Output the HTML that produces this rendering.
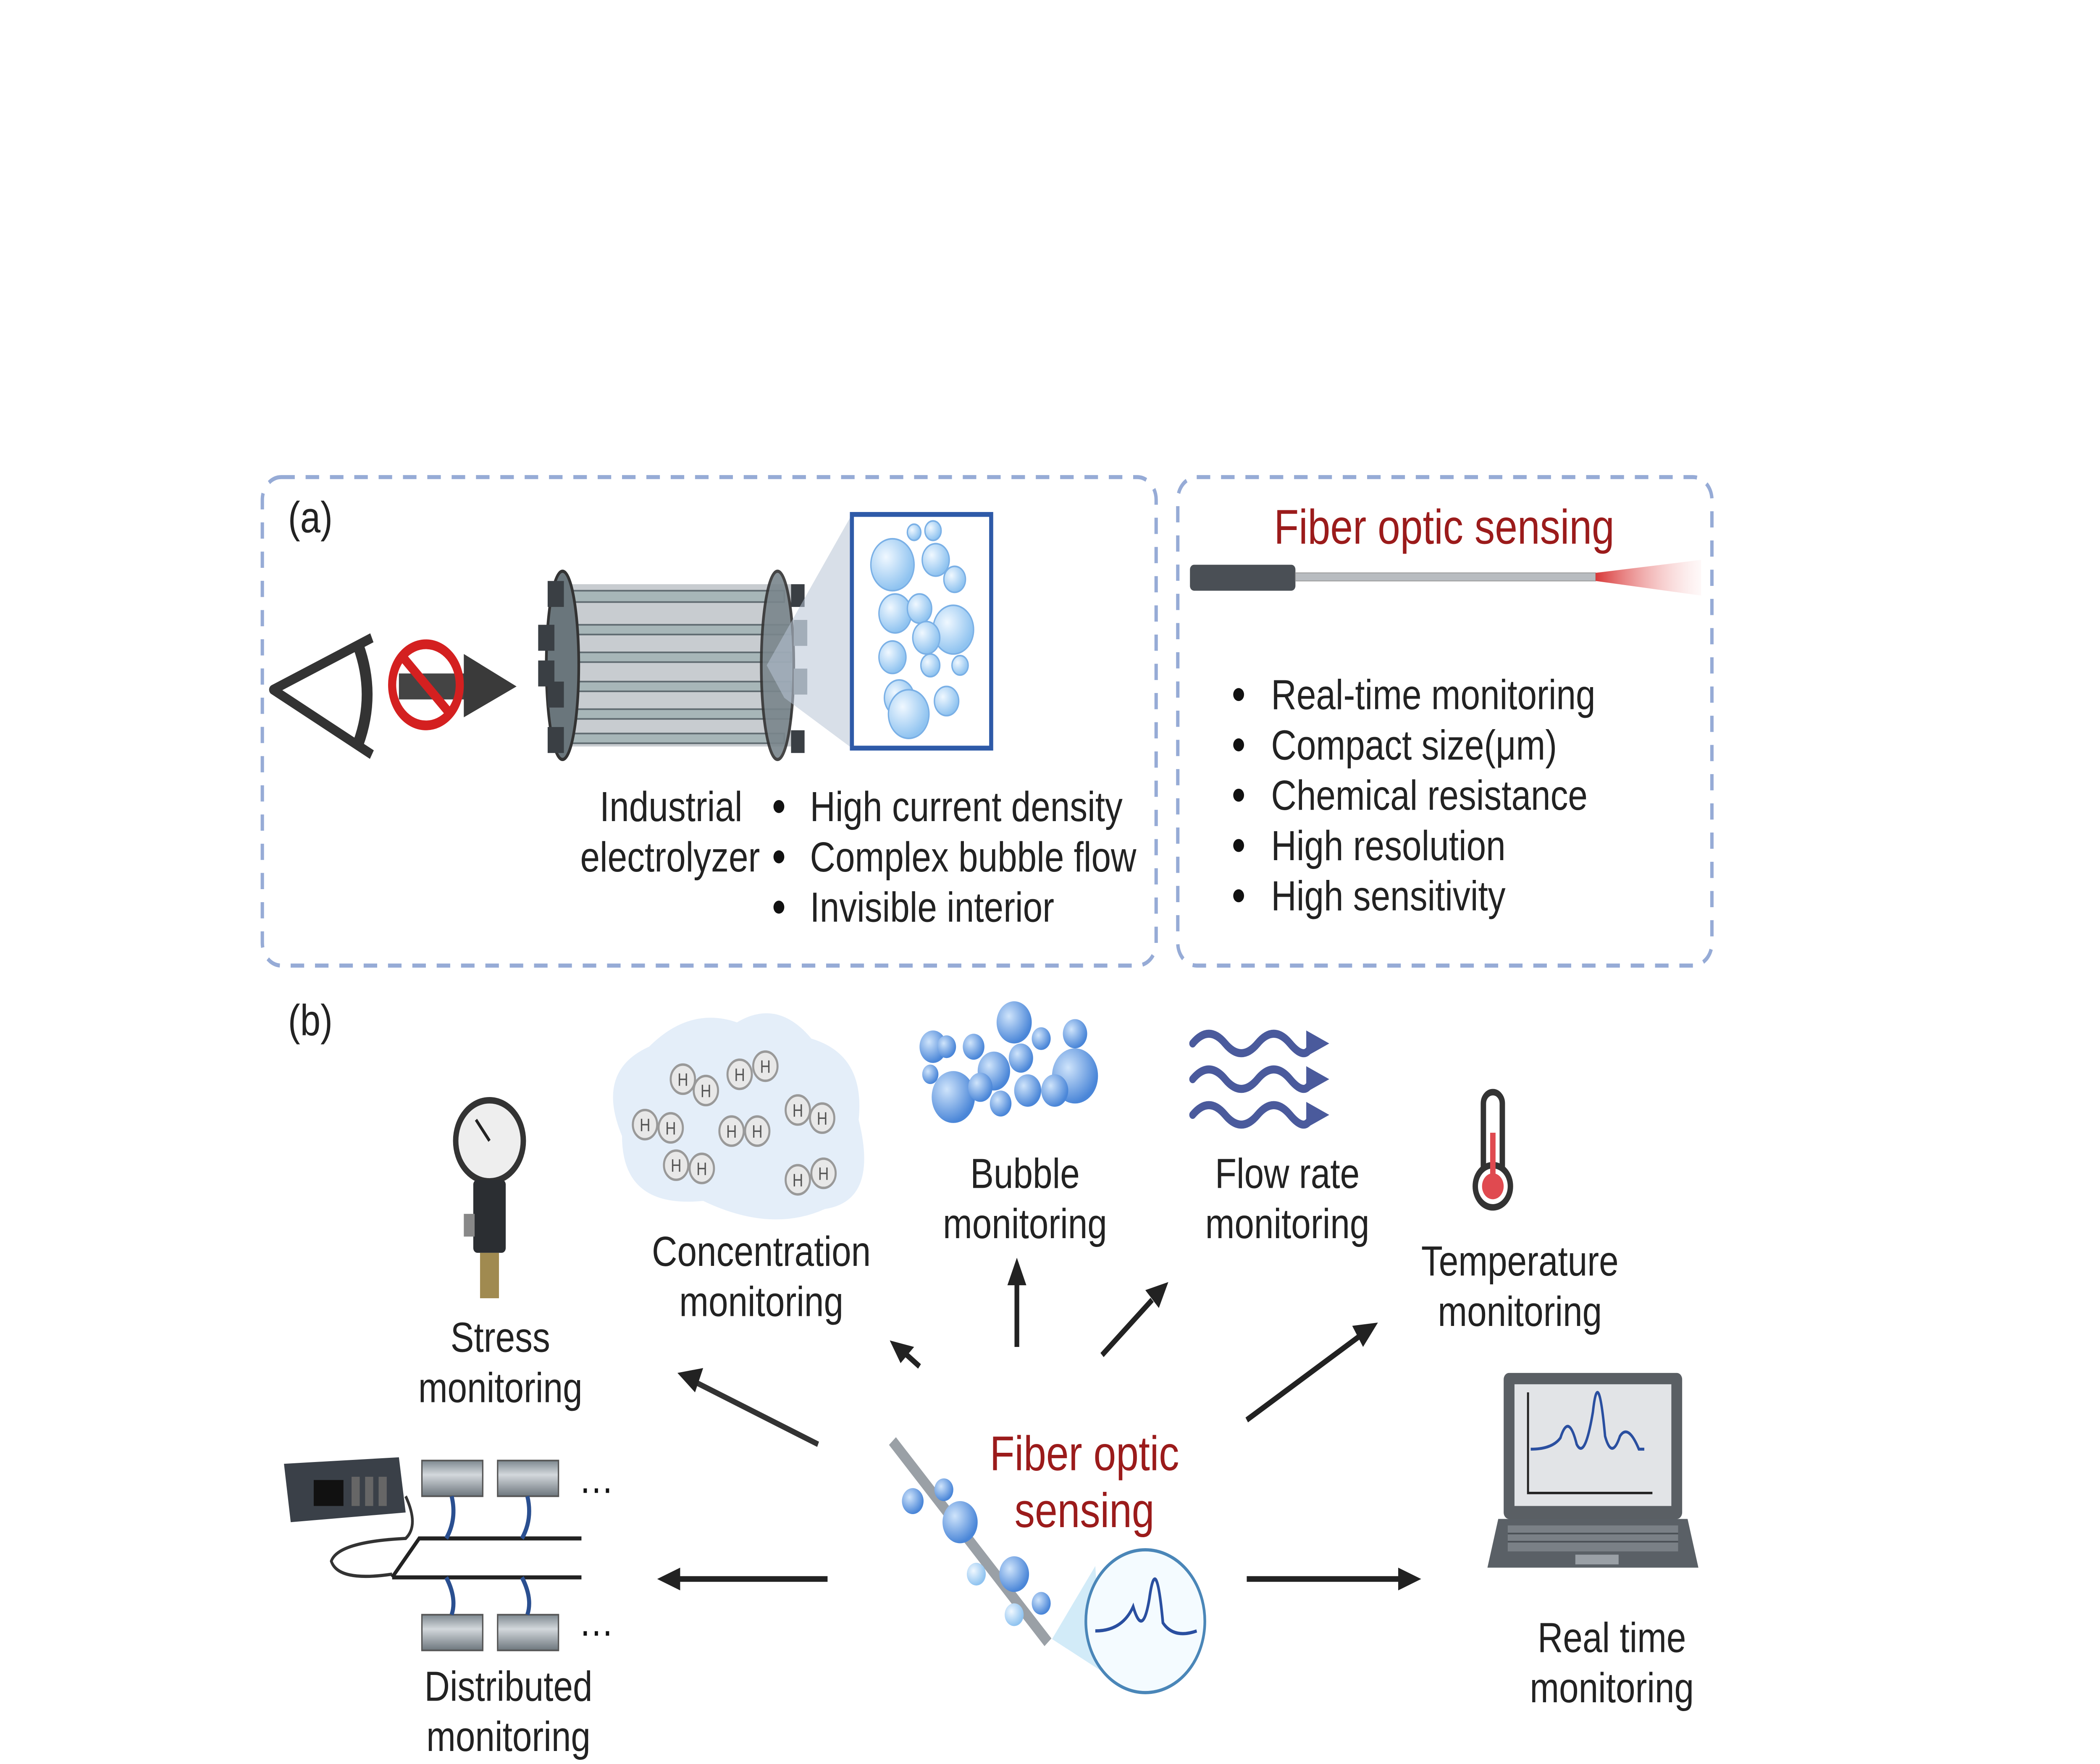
<!DOCTYPE html>
<html><head><meta charset="utf-8"><style>
html,body{margin:0;padding:0;background:#fff;overflow:hidden;width:100%;height:100%;}
svg{display:block;width:100vw;height:100vh;}
text{font-family:"Liberation Sans",sans-serif;}
</style></head><body>
<svg viewBox="0 0 1553 1087" preserveAspectRatio="none" xmlns="http://www.w3.org/2000/svg">
<defs>
<radialGradient id="bub" cx="35%" cy="35%" r="65%"><stop offset="0" stop-color="#cfe4fb"/><stop offset="1" stop-color="#4a86d8"/></radialGradient>
<radialGradient id="bubl" cx="35%" cy="35%" r="65%"><stop offset="0" stop-color="#f0f8ff"/><stop offset="1" stop-color="#8fc3f0"/></radialGradient>
<linearGradient id="glow" x1="0" x2="1"><stop offset="0" stop-color="#d83838"/><stop offset="1" stop-color="#f8c0c0" stop-opacity="0.1"/></linearGradient>
<linearGradient id="cyl" x1="0" y1="0" x2="0" y2="1"><stop offset="0" stop-color="#7d888f"/><stop offset="0.4" stop-color="#d3d8dc"/><stop offset="1" stop-color="#6d767d"/></linearGradient>
<linearGradient id="fadeL" x1="1" x2="0"><stop offset="0" stop-color="#222" stop-opacity="0"/><stop offset="0.5" stop-color="#222"/><stop offset="1" stop-color="#222"/></linearGradient>
</defs>
<rect width="1553" height="1087" fill="#fff"/>
<rect x="194" y="294" width="661" height="301" rx="14" fill="none" stroke="#96abd6" stroke-width="2.5" stroke-dasharray="10,8"/>
<rect x="871" y="294" width="395" height="301" rx="14" fill="none" stroke="#96abd6" stroke-width="2.5" stroke-dasharray="10,8"/>
<text x="213" y="328" font-size="27" fill="#222">(a)</text>
<text x="213" y="638" font-size="27" fill="#222">(b)</text>
<text x="1068" y="335" font-size="30" fill="#9b1b1b" text-anchor="middle">Fiber optic sensing</text>
<rect x="880" y="348" width="78" height="16" rx="3" fill="#4a4f55"/>
<rect x="958" y="353" width="222" height="5" fill="#b8bcc0" stroke="#999" stroke-width="0.5"/>
<polygon points="1180,353 1258,345 1258,367 1180,358" fill="url(#glow)"/>
<g font-size="26" fill="#222">
<g fill="#111"><circle cx="916" cy="428" r="4"/><circle cx="916" cy="459" r="4"/><circle cx="916" cy="490" r="4"/><circle cx="916" cy="521" r="4"/><circle cx="916" cy="552" r="4"/></g>
<text x="940" y="437">Real-time monitoring</text>
<text x="940" y="468">Compact size(μm)</text>
<text x="940" y="499">Chemical  resistance</text>
<text x="940" y="530">High resolution</text>
<text x="940" y="561">High sensitivity</text>
</g>
<path d="M275,393 L202,425 L275,465" fill="none" stroke="#333" stroke-width="6" stroke-linejoin="round"/>
<path d="M265,398 Q278,428 265,458" fill="none" stroke="#333" stroke-width="8"/>
<rect x="295" y="415" width="50" height="16" fill="#444"/>
<polygon points="343,403 382,423 343,442" fill="#3a3a3a"/>
<circle cx="315" cy="422" r="25" fill="none" stroke="#d42020" stroke-width="6"/>
<line x1="298" y1="405" x2="332" y2="439" stroke="#d42020" stroke-width="6"/>
<rect x="420" y="360" width="165" height="100" fill="#c8ccd0"/>
<g fill="#a7b6b8" stroke="#5f6a70" stroke-width="1"><rect x="420" y="364" width="160" height="7"/><rect x="420" y="385" width="165" height="6"/><rect x="420" y="402" width="165" height="6"/><rect x="420" y="420" width="165" height="6"/><rect x="420" y="437" width="165" height="6"/><rect x="420" y="452" width="160" height="6"/></g>
<ellipse cx="416" cy="410" rx="12" ry="58" fill="#6a767c" stroke="#333" stroke-width="2"/>
<ellipse cx="575" cy="410" rx="12" ry="58" fill="#7a868c" stroke="#333" stroke-width="2" opacity="0.9"/>
<g fill="#3a3f44"><rect x="405" y="358" width="12" height="16"/><rect x="405" y="448" width="12" height="16"/><rect x="398" y="385" width="12" height="16"/><rect x="398" y="407" width="12" height="16"/><rect x="405" y="420" width="12" height="16"/><rect x="585" y="360" width="10" height="14"/><rect x="585" y="450" width="10" height="14"/></g>
<g fill="#8a9298"><rect x="587" y="382" width="10" height="16"/><rect x="587" y="412" width="10" height="16"/></g>
<polygon points="567,410 630,317 630,461 580,430" fill="#b8c4d6" opacity="0.55"/>
<rect x="630" y="317" width="103" height="144" fill="#fff" stroke="#2e5aa8" stroke-width="3"/>
<g fill="url(#bubl)" stroke="#7ab0e6" stroke-width="1">
<circle cx="660" cy="348" r="16"/><circle cx="692" cy="345" r="10"/><circle cx="705" cy="388" r="15"/><circle cx="662" cy="378" r="12"/><circle cx="680" cy="375" r="9"/><circle cx="660" cy="405" r="10"/><circle cx="688" cy="410" r="7"/><circle cx="665" cy="430" r="11"/><circle cx="672" cy="440" r="15"/><circle cx="700" cy="432" r="9"/><circle cx="706" cy="357" r="8"/><circle cx="685" cy="393" r="10"/><circle cx="710" cy="410" r="6"/><circle cx="676" cy="328" r="5"/><circle cx="690" cy="327" r="6"/>
</g>
<g font-size="26" fill="#222">
<text x="549" y="506" text-anchor="end">Industrial</text>
<text x="562" y="537" text-anchor="end">electrolyzer</text>
<g fill="#111"><circle cx="576" cy="497" r="4"/><circle cx="576" cy="528" r="4"/><circle cx="576" cy="559" r="4"/></g>
<text x="599" y="506">High current density</text>
<text x="599" y="537">Complex bubble flow</text>
<text x="599" y="568">Invisible interior</text>
</g>
<g font-size="26" fill="#222" text-anchor="middle">
<text x="370" y="833">Stress</text><text x="370" y="864">monitoring</text>
<text x="563" y="780">Concentration</text><text x="563" y="811">monitoring</text>
<text x="758" y="732">Bubble</text><text x="758" y="763">monitoring</text>
<text x="952" y="732">Flow rate</text><text x="952" y="763">monitoring</text>
<text x="1124" y="786">Temperature</text><text x="1124" y="817">monitoring</text>
<text x="1192" y="1018">Real time</text><text x="1192" y="1049">monitoring</text>
<text x="376" y="1048">Distributed</text><text x="376" y="1079">monitoring</text>
</g>
<text x="802" y="906" font-size="30" fill="#9b1b1b" text-anchor="middle">Fiber optic</text>
<text x="802" y="941" font-size="30" fill="#9b1b1b" text-anchor="middle">sensing</text>
<g stroke="#222" stroke-width="3.5" fill="#222">
<line x1="605" y1="890" x2="515" y2="852" stroke="#333"/><polygon points="501,846 520,843 514,858" stroke="none"/>
<line x1="680" y1="842" x2="668" y2="833"/><polygon points="658,826 676,830 666,840" stroke="none"/>
<line x1="752" y1="830" x2="752" y2="790"/><polygon points="752,775 745,792 759,792" stroke="none"/>
<line x1="815" y1="835" x2="852" y2="801"/><polygon points="864,790 847,795 857,806" stroke="none"/>
<line x1="922" y1="875" x2="1006" y2="823"/><polygon points="1019,815 1000,817 1008,830" stroke="none"/>
<line x1="612" y1="973" x2="502" y2="973"/><polygon points="486,973 503,966 503,980" stroke="none"/>
<line x1="922" y1="973" x2="1035" y2="973"/><polygon points="1051,973 1034,966 1034,980" stroke="none"/>
</g>
<circle cx="362" cy="703" r="25" fill="#eee" stroke="#333" stroke-width="4"/>
<line x1="362" y1="703" x2="352" y2="690" stroke="#222" stroke-width="2"/>
<rect x="350" y="727" width="24" height="45" rx="3" fill="#2b2e32"/>
<rect x="343" y="748" width="8" height="14" fill="#888"/>
<rect x="355" y="772" width="14" height="28" fill="#a08a50"/>
<path d="M460,700 Q440,660 480,645 Q510,620 545,630 Q575,615 600,640 Q640,650 635,690 Q650,740 610,745 Q570,760 520,740 Q460,745 460,700Z" fill="#e4eef9"/>
<g fill="#e8e8e8" stroke="#999" stroke-width="1.5">
<circle cx="505" cy="665" r="9"/><circle cx="522" cy="672" r="9"/><circle cx="547" cy="662" r="9"/><circle cx="566" cy="657" r="9"/><circle cx="477" cy="693" r="9"/><circle cx="496" cy="695" r="9"/><circle cx="541" cy="697" r="9"/><circle cx="560" cy="697" r="9"/><circle cx="590" cy="684" r="9"/><circle cx="608" cy="689" r="9"/><circle cx="500" cy="718" r="9"/><circle cx="519" cy="720" r="9"/><circle cx="590" cy="727" r="9"/><circle cx="609" cy="723" r="9"/>
</g>
<g font-size="11" fill="#555" text-anchor="middle">
<text x="505" y="669">H</text><text x="522" y="676">H</text><text x="547" y="666">H</text><text x="566" y="661">H</text><text x="477" y="697">H</text><text x="496" y="699">H</text><text x="541" y="701">H</text><text x="560" y="701">H</text><text x="590" y="688">H</text><text x="608" y="693">H</text><text x="500" y="722">H</text><text x="519" y="724">H</text><text x="590" y="731">H</text><text x="609" y="727">H</text>
</g>
<g fill="url(#bub)">
<circle cx="705" cy="676" r="16"/><circle cx="735" cy="660" r="12"/><circle cx="750" cy="630" r="13"/><circle cx="795" cy="663" r="17"/><circle cx="760" cy="672" r="10"/><circle cx="690" cy="645" r="10"/><circle cx="780" cy="672" r="10"/><circle cx="720" cy="645" r="8"/><circle cx="795" cy="637" r="9"/><circle cx="740" cy="680" r="8"/><circle cx="700" cy="645" r="7"/><circle cx="770" cy="640" r="7"/><circle cx="688" cy="662" r="6"/><circle cx="725" cy="670" r="9"/><circle cx="755" cy="652" r="9"/>
</g>
<g fill="none" stroke="#4a5a9c" stroke-width="5" stroke-linecap="round">
<path d="M882,643 q12,-12 24,0 t24,0 t24,0 t16,0"/><path d="M882,665 q12,-12 24,0 t24,0 t24,0 t16,0"/><path d="M882,687 q12,-12 24,0 t24,0 t24,0 t16,0"/>
</g>
<g fill="#4a5a9c"><polygon points="966,635 983,643 966,651"/><polygon points="966,657 983,665 966,673"/><polygon points="966,679 983,687 966,695"/></g>
<rect x="1097" y="673" width="14" height="56" rx="7" fill="#fff" stroke="#333" stroke-width="4"/>
<circle cx="1104" cy="731" r="13" fill="#fff" stroke="#333" stroke-width="4"/>
<circle cx="1104" cy="731" r="8" fill="#e04a50"/><rect x="1102" y="698" width="4" height="30" fill="#e04a50"/>
<rect x="1112" y="846" width="132" height="90" rx="4" fill="#5a5f64"/>
<rect x="1120" y="853" width="116" height="75" fill="#e2e4e7"/>
<path d="M1130,858 V920 H1222" fill="none" stroke="#222" stroke-width="1.5"/>
<path d="M1132,893 Q1148,893 1154,886 Q1160,870 1166,890 Q1172,900 1178,870 Q1182,840 1187,885 Q1192,900 1198,885 Q1204,877 1212,893 L1216,893" fill="none" stroke="#2a4fa0" stroke-width="1.8"/>
<polygon points="1108,936 1248,936 1256,966 1100,966" fill="#5a6066"/>
<rect x="1115" y="940" width="126" height="16" fill="#7a8086"/>
<g stroke="#4a4f55" stroke-width="1"><line x1="1115" y1="945" x2="1241" y2="945"/><line x1="1115" y1="950" x2="1241" y2="950"/></g>
<rect x="1165" y="958" width="32" height="6" fill="#9aa0a6"/>
<polygon points="210,902 295,898 300,932 215,938" fill="#3a4048"/>
<rect x="232" y="912" width="22" height="16" fill="#111"/>
<g fill="#666"><rect x="260" y="910" width="6" height="18"/><rect x="270" y="910" width="6" height="18"/><rect x="280" y="910" width="6" height="18"/></g>
<path d="M300,922 Q310,940 300,948 Q250,950 245,962 Q250,975 290,970" fill="none" stroke="#333" stroke-width="2"/>
<path d="M290,972 L310,948 H430 M290,972 H430" fill="none" stroke="#222" stroke-width="2.5"/>
<g fill="url(#cyl)" stroke="#555" stroke-width="1"><rect x="312" y="900" width="45" height="22"/><rect x="368" y="900" width="45" height="22"/><rect x="312" y="995" width="45" height="22"/><rect x="368" y="995" width="45" height="22"/></g>
<g stroke="#2a4f90" stroke-width="3" fill="none"><path d="M334,922 q4,14 -4,26"/><path d="M390,922 q4,14 -4,26"/><path d="M334,995 q4,-10 -4,-23"/><path d="M390,995 q4,-10 -4,-23"/></g>
<text x="428" y="920" font-size="26" fill="#111">…</text><text x="428" y="1008" font-size="26" fill="#111">…</text>
<line x1="660" y1="888" x2="775" y2="1012" stroke="#9aa0a6" stroke-width="7"/>
<g fill="url(#bub)"><circle cx="675" cy="925" r="8"/><circle cx="698" cy="918" r="7"/><circle cx="710" cy="938" r="13"/><circle cx="750" cy="970" r="11"/><circle cx="770" cy="988" r="7"/></g>
<g fill="url(#bubl)"><circle cx="722" cy="970" r="7"/><circle cx="750" cy="995" r="7"/></g>
<polygon points="778,1010 810,965 815,1030" fill="#bfe3f5" opacity="0.7"/>
<circle cx="847" cy="999" r="44" fill="#f4fbff" stroke="#4a86b8" stroke-width="2"/>
<path d="M810,1005 Q830,1005 838,990 Q845,1010 850,985 Q855,955 860,1000 Q868,1010 885,1005" fill="none" stroke="#2a4fa0" stroke-width="2"/>
</svg>
</body></html>
